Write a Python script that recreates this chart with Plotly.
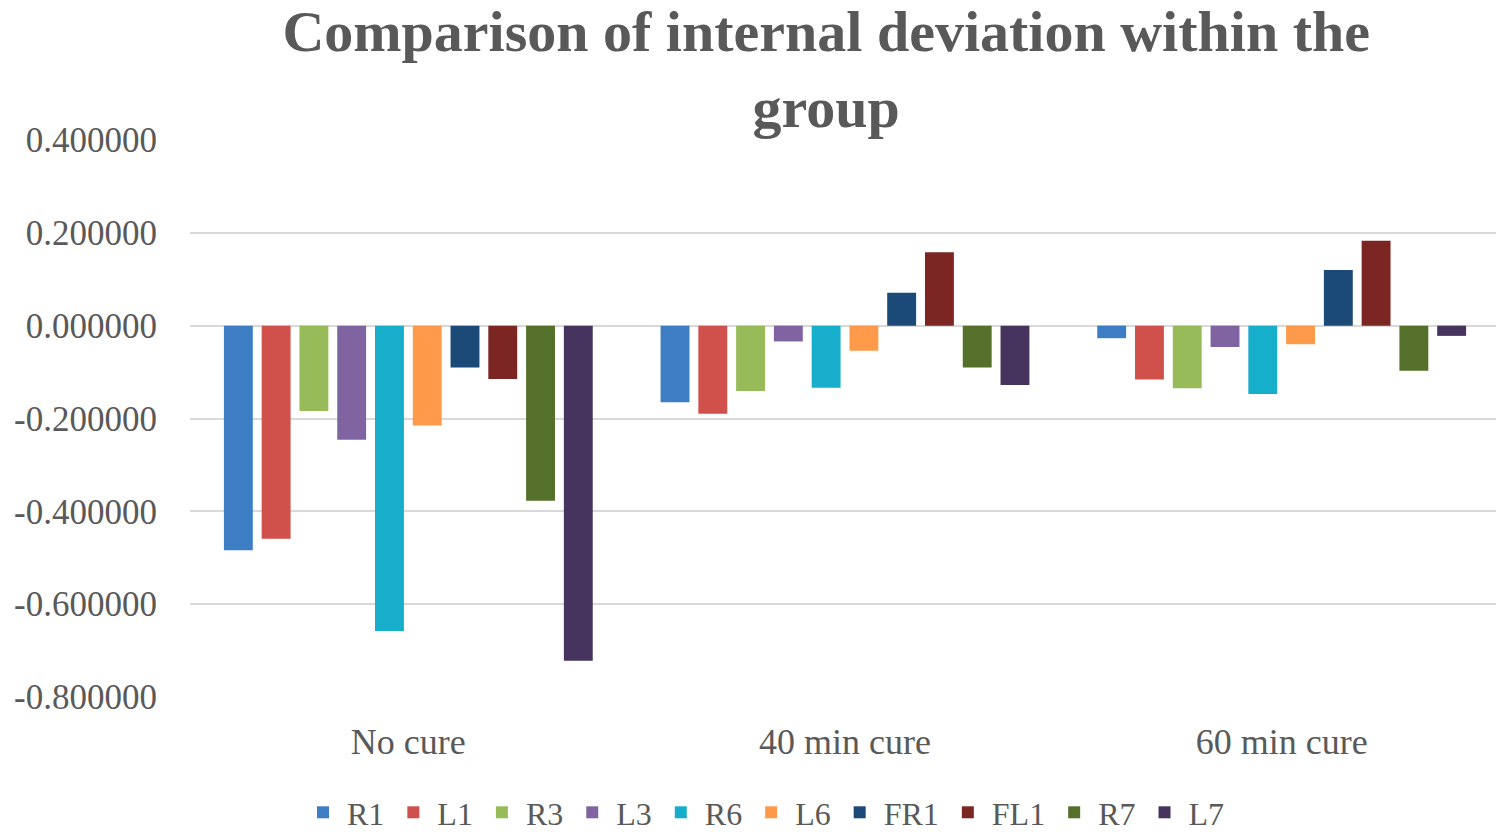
import plotly.graph_objects as go

# groups on the x axis
groups = ["No cure", "40 min cure", "60 min cure"]

# one list per specimen
r1 = [-0.484, -0.165, -0.027]
l1 = [-0.459, -0.190, -0.116]
r3 = [-0.184, -0.141, -0.135]
l3 = [-0.246, -0.034, -0.046]
r6 = [-0.658, -0.134, -0.147]
l6 = [-0.215, -0.054, -0.040]
fr1 = [-0.090, 0.071, 0.120]
fl1 = [-0.115, 0.158, 0.183]
r7 = [-0.377, -0.090, -0.097]
l7 = [-0.722, -0.128, -0.022]

series_names = ["R1", "L1", "R3", "L3", "R6", "L6", "FR1", "FL1", "R7", "L7"]
series_values = [r1, l1, r3, l3, r6, l6, fr1, fl1, r7, l7]
colors = ["#3C7DC4", "#D0504B", "#98BB59", "#8064A2", "#17AECC",
          "#FF9A4A", "#1B4A78", "#7B2623", "#55702A", "#47345E"]

y_ticks = [0.4, 0.2, 0.0, -0.2, -0.4, -0.6, -0.8]
y_tick_text = [f"{v:.6f}" for v in y_ticks]

font_family = "Liberation Serif, DejaVu Serif, serif"
text_gray = "#595959"

fig = go.Figure()
for name, vals, col in zip(series_names, series_values, colors):
    fig.add_trace(go.Bar(name=name, x=groups, y=vals, marker_color=col,
                         marker_line_width=0))

fig.update_layout(
    width=1504,
    height=832,
    barmode="group",
    bargap=0.135,
    bargroupgap=0.235,
    plot_bgcolor="white",
    paper_bgcolor="white",
    font=dict(family=font_family, size=36, color=text_gray),
    title=dict(
        text="<b>Comparison of internal deviation within the<br>group</b>",
        x=0.544, xanchor="center", xref="container",
        y=0.948, yanchor="middle", yref="container",
        font=dict(family=font_family, size=58, color=text_gray),
    ),
    # page body adds 8px, so margins are a bit smaller than the picture shows
    margin=dict(l=182, r=12, t=132, b=143),
    legend=dict(
        orientation="h",
        x=0.503, xanchor="center", xref="container",
        y=0.0, yanchor="bottom", yref="container",
        itemwidth=38,
        font=dict(size=32, color=text_gray),
    ),
)
fig.update_yaxes(
    range=[-0.8, 0.4],
    tickvals=y_ticks,
    ticktext=y_tick_text,
    tickfont=dict(size=35),
    showgrid=True, gridcolor="#D9D9D9", gridwidth=2,
    zeroline=True, zerolinecolor="#D9D9D9", zerolinewidth=2,
    ticks="", ticklabelstandoff=32, automargin=False,
)
fig.update_xaxes(showline=False, ticks="", ticklabelstandoff=20, automargin=False)

fig.write_html("out.html")
